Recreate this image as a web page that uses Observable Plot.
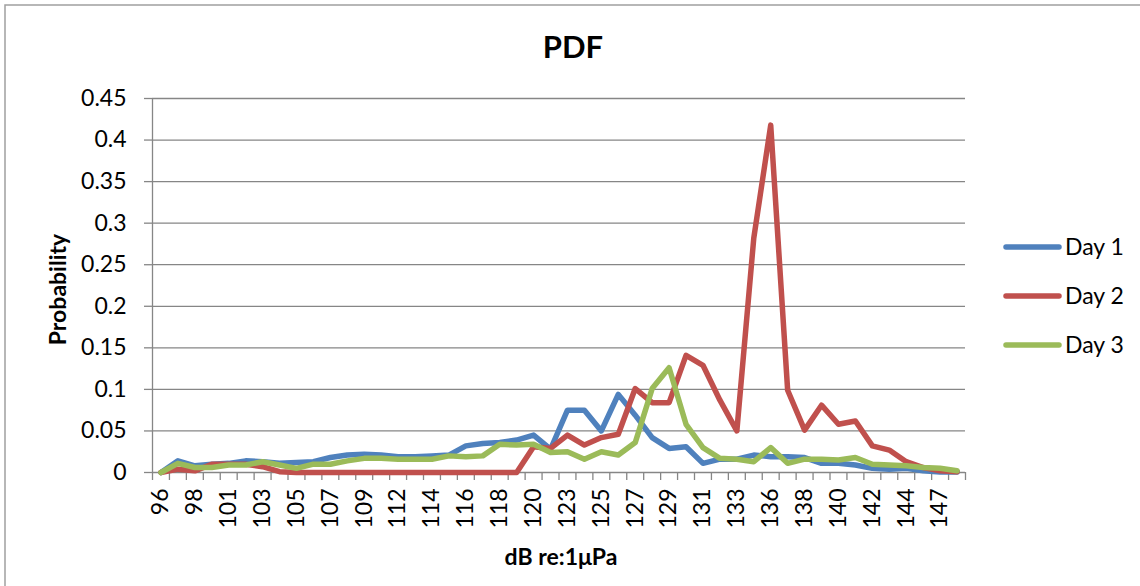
<!DOCTYPE html>
<html>
<head>
<meta charset="utf-8">
<script src="https://cdn.jsdelivr.net/npm/d3@7"></script>
<script src="https://cdn.jsdelivr.net/npm/@observablehq/plot@0.6"></script>
<style>
html, body { margin: 0; padding: 0; background: #fff; overflow: hidden; }
#chart { width: 1140px; height: 586px; }
</style>
</head>
<body>
<div id="chart"></div>
<script>
// Category labels (dB re:1µPa bins)
const categories = ["96","97","98","100","101","102","103","104","105","106",
  "107","108","109","111","112","113","114","115","116","117",
  "118","119","120","122","123","124","125","126","127","128",
  "129","130","131","132","133","135","136","137","138","139",
  "140","141","142","143","144","146","147","148"];

const seriesNames = ["Day 1", "Day 2", "Day 3"];
const seriesColors = ["#4F81BD", "#C0504D", "#9BBB59"];

const day1 = [0, 0.014, 0.008, 0.010, 0.011, 0.014, 0.013, 0.011, 0.012, 0.013,
  0.018, 0.021, 0.022, 0.021, 0.019, 0.019, 0.020, 0.021, 0.032, 0.035,
  0.036, 0.039, 0.045, 0.028, 0.075, 0.075, 0.050, 0.094, 0.069, 0.042,
  0.029, 0.031, 0.011, 0.016, 0.016, 0.021, 0.019, 0.019, 0.018, 0.011,
  0.011, 0.009, 0.005, 0.004, 0.005, 0.002, 0.0005, 0.0005];

const day2 = [0, 0.004, 0.002, 0.010, 0.010, 0.010, 0.007, 0.001, 0, 0,
  0, 0, 0, 0, 0, 0, 0, 0, 0, 0,
  0, 0, 0.031, 0.029, 0.045, 0.033, 0.042, 0.046, 0.101, 0.084,
  0.084, 0.141, 0.129, 0.087, 0.050, 0.282, 0.418, 0.099, 0.051, 0.081,
  0.058, 0.062, 0.032, 0.027, 0.013, 0.006, 0.002, 0.001];

const day3 = [0, 0.011, 0.006, 0.006, 0.009, 0.009, 0.013, 0.009, 0.005, 0.010,
  0.010, 0.014, 0.017, 0.017, 0.016, 0.016, 0.016, 0.020, 0.019, 0.020,
  0.034, 0.033, 0.034, 0.024, 0.025, 0.016, 0.025, 0.021, 0.036, 0.101,
  0.126, 0.058, 0.030, 0.017, 0.016, 0.013, 0.030, 0.011, 0.016, 0.016,
  0.015, 0.018, 0.010, 0.009, 0.008, 0.006, 0.005, 0.002];

const yTicks = [0, 0.05, 0.1, 0.15, 0.2, 0.25, 0.3, 0.35, 0.4, 0.45];
const yTickLabels = ["0", "0.05", "0.1", "0.15", "0.2", "0.25", "0.3", "0.35", "0.4", "0.45"];

const titleText = "PDF";
const xTitle = "dB re:1μPa";
const yTitle = "Probability";

// Build long-format table
const allSeries = [day1, day2, day3];
const rows = [];
allSeries.forEach((vals, s) => vals.forEach((v, i) => rows.push({i, v, series: seriesNames[s]})));

const labelIdx = categories.map((_, i) => i).filter(i => i % 2 === 0);
const boundaries = categories.map((_, i) => i - 0.5).concat([categories.length - 0.5]);

const axisColor = "#868686";
const font = "Lato, 'Open Sans', sans-serif";

const plot = Plot.plot({
  width: 1140,
  height: 586,
  marginLeft: 152,
  marginRight: 175,
  marginTop: 98,
  marginBottom: 114,
  style: {fontFamily: font, fontSize: "23px", color: "#000", background: "#fff", overflow: "visible"},
  x: {type: "linear", domain: [-0.5, categories.length - 0.5], axis: null},
  y: {domain: [0, 0.45], axis: null},
  color: {domain: seriesNames, range: seriesColors},
  marks: [
    Plot.gridY({ticks: yTicks, stroke: axisColor, strokeOpacity: 1, strokeWidth: 1.3}),
    Plot.ruleX([-0.5], {stroke: axisColor, strokeWidth: 1.3}),
    Plot.axisY({ticks: yTicks, label: null, tickSize: 8, tickPadding: 18, stroke: axisColor, strokeWidth: 1.3,
      tickFormat: d => yTickLabels[yTicks.indexOf(d)], fontSize: 23, fill: "#000"}),
    Plot.axisX({ticks: boundaries, label: null, tickSize: 8, stroke: axisColor, strokeWidth: 1.3, tickFormat: () => ""}),
    Plot.axisX({ticks: labelIdx, label: null, tickSize: 0, tickPadding: 16, tickRotate: -90,
      tickFormat: i => categories[i], fontSize: 23, fill: "#000"}),
    Plot.line(rows, {x: "i", y: "v", z: "series", stroke: "series", strokeWidth: 5.5,
      strokeLinecap: "round", strokeLinejoin: "round"}),
    Plot.text([titleText], {frameAnchor: "top", lineAnchor: "middle", textAnchor: "middle", dx: 14, dy: -50,
      fontSize: 31, fontWeight: "bold", fill: "#000"}),
    Plot.text([xTitle], {frameAnchor: "bottom", lineAnchor: "middle", textAnchor: "middle", dx: 2, dy: 85,
      fontSize: 23, fontWeight: "bold", fill: "#000"}),
    Plot.text([yTitle], {frameAnchor: "left", lineAnchor: "middle", textAnchor: "middle", dx: -94, dy: 4,
      rotate: -90, fontSize: 23, fontWeight: "bold", fill: "#000"})
  ]
});

// Legend and chart border
const svg = d3.select(plot);
const legendYs = [247, 296, 345];
const lg = svg.append("g").attr("text-anchor", "start");
seriesNames.forEach((name, k) => {
  lg.append("line").attr("x1", 1006).attr("x2", 1059).attr("y1", legendYs[k]).attr("y2", legendYs[k])
    .attr("stroke", seriesColors[k]).attr("stroke-width", 5.5).attr("stroke-linecap", "round");
  lg.append("text").attr("x", 1065).attr("y", legendYs[k]).attr("dy", "0.36em")
    .attr("text-anchor", "start").attr("font-size", 23).attr("fill", "#000")
    .attr("font-family", font).text(name);
});
svg.append("path").attr("d", "M5,586V5H1140").attr("fill", "none").attr("stroke", "#a0a0a0").attr("stroke-width", 1.5);

document.getElementById("chart").appendChild(plot);
</script>
</body>
</html>
